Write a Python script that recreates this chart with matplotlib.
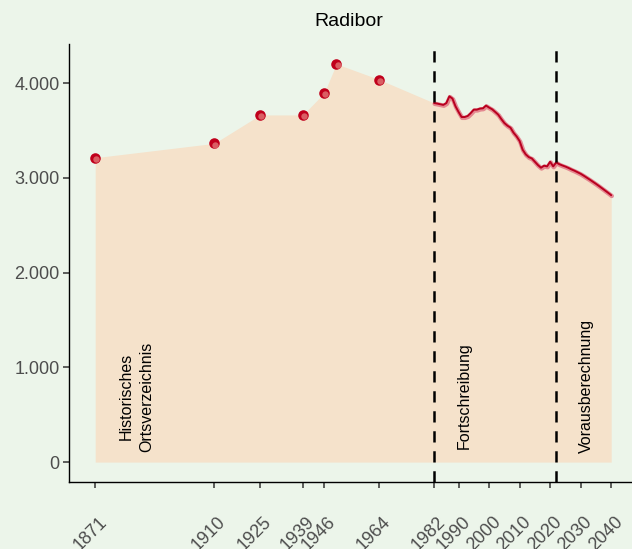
import matplotlib
matplotlib.use("Agg")
import matplotlib.pyplot as plt
import matplotlib.transforms as mtransforms
from matplotlib.ticker import FuncFormatter, FixedLocator

plt.rcParams['font.family'] = ['Liberation Sans', 'DejaVu Sans']

# Historical census points
hist_years = [1871, 1910, 1925, 1939, 1946, 1950, 1964]
hist_values = [3214, 3365, 3665, 3665, 3897, 4204, 4039]

# Annual update (Fortschreibung)
fort_years = list(range(1982, 2023))
fort_values = [3791, 3785, 3778, 3771, 3790, 3862, 3838, 3757, 3697, 3643,
               3643, 3654, 3685, 3721, 3721, 3732, 3735, 3764, 3743, 3725,
               3697, 3668, 3622, 3580, 3552, 3531, 3478, 3439, 3390, 3298,
               3249, 3220, 3206, 3171, 3136, 3108, 3129, 3122, 3171, 3122,
               3164]

# Projection (Vorausberechnung)
proj_years = list(range(2022, 2041))
proj_values = [3164, 3145, 3132, 3120, 3106, 3090, 3076, 3060, 3044, 3024,
               3003, 2982, 2960, 2938, 2915, 2891, 2867, 2843, 2818]

tick_years = [1871, 1910, 1925, 1939, 1946, 1964, 1982, 1990, 2000, 2010,
              2020, 2030, 2040]
y_ticks = [0, 1000, 2000, 3000, 4000]
phase_lines = [1982, 2022]
title = "Radibor"

bg = "#ecf5ea"
fill_col = "#f5e2cb"
dark_red = "#b8001f"
light_red = "#e07080"

fig = plt.figure(figsize=(6.32, 5.49), dpi=100, facecolor=bg)
W, H = 632, 549
left, right, top, bottom = 69.4, 637, 44, 482
ax = fig.add_axes([left / W, (H - bottom) / H, (right - left) / W, (bottom - top) / H])
ax.set_facecolor(bg)

# area
area_x = hist_years + fort_years + proj_years[1:]
area_y = hist_values + fort_values + proj_values[1:]
ax.fill_between(area_x, 0, area_y, color=fill_col, lw=0, zorder=1)

# lines with glow
line_x = fort_years + proj_years[1:]
line_y = fort_values + proj_values[1:]
shift = mtransforms.offset_copy(ax.transData, fig=fig, x=0.6, y=-0.8, units='dots')
ax.plot(line_x, line_y, color=light_red, lw=3.2, alpha=0.8, transform=shift, zorder=3,
        solid_capstyle='round', solid_joinstyle='round')
ax.plot(line_x, line_y, color=dark_red, lw=1.4, zorder=4,
        solid_capstyle='round', solid_joinstyle='round')

# points
ax.plot(hist_years, hist_values, 'o', ms=7.6, color="#c0001c", mec='none', zorder=5)
shift2 = mtransforms.offset_copy(ax.transData, fig=fig, x=1.2, y=-1.2, units='dots')
ax.plot(hist_years, hist_values, 'o', ms=4.6, color="#dc6468", mec='none', zorder=6,
        transform=shift2, alpha=0.95)

# phase lines
for yr in phase_lines:
    ax.axvline(yr, color='black', lw=1.8, ls=(0, (4.5, 3.5)), zorder=7)

# annotations
ax.text(1884.6, 110, "Historisches\nOrtsverzeichnis", rotation=90, ha='center', va='bottom',
        fontsize=11.5, linespacing=1.45, zorder=8)
ax.text(1992, 140, "Fortschreibung", rotation=90, ha='center', va='bottom', fontsize=11.5, zorder=8)
ax.text(2032, 95, "Vorausberechnung", rotation=90, ha='center', va='bottom', fontsize=11.5, zorder=8)

ax.set_xlim(1862.55, 2048.45)
ax.set_ylim(-210, 4414)

for s in ['top', 'right']:
    ax.spines[s].set_visible(False)
for s in ['left', 'bottom']:
    ax.spines[s].set_color('black')
    ax.spines[s].set_linewidth(1.0)

ax.yaxis.set_major_locator(FixedLocator(y_ticks))
ax.yaxis.set_major_formatter(FuncFormatter(lambda v, p: f"{int(v):,}".replace(",", ".")))
ax.xaxis.set_major_locator(FixedLocator(tick_years))
ax.set_xticklabels([str(y) for y in tick_years])
ax.tick_params(axis='both', colors='#333333', length=4, width=1.1, labelsize=13,
               labelcolor='#4d4d4d')
ax.tick_params(axis='y', pad=3)
ax.tick_params(axis='x', pad=18.5)
lab_shift = mtransforms.ScaledTranslation(3 / 100, 0, fig.dpi_scale_trans)
for lab in ax.get_xticklabels():
    lab.set_rotation(45)
    lab.set_ha('right')
    lab.set_va('top')
    lab.set_rotation_mode('anchor')
    lab.set_transform(lab.get_transform() + lab_shift)

fig.text(349 / W, 1 - 21 / H, title, ha='center', va='center', fontsize=14, color='black')

fig.savefig("out.png", dpi=100, facecolor=bg)
